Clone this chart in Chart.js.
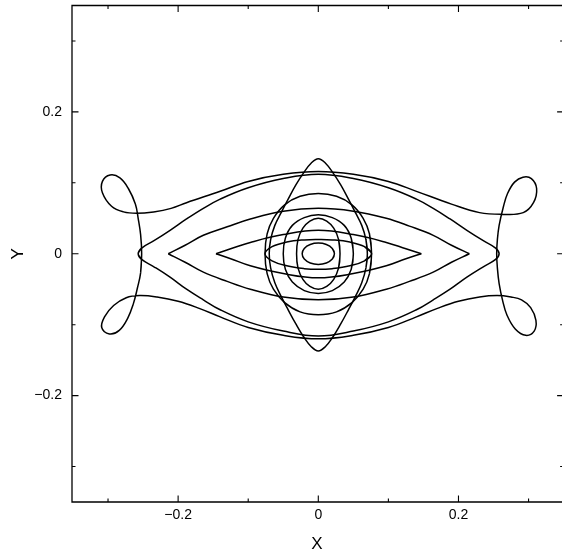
<!DOCTYPE html>
<html>
<head>
<meta charset="utf-8">
<script src="https://cdn.jsdelivr.net/npm/chart.js@4/dist/chart.umd.min.js"></script>
<style>
  html, body { margin: 0; padding: 0; background: #fff; }
  canvas { display: block; }
</style>
</head>
<body>
<canvas id="c" width="562" height="553"></canvas>
<script>
// Axis ticks
const xTickValues = [-0.2, 0, 0.2];
const xTickLabels = ['\u22120.2', '0', '0.2'];
const xMinorTicks = [-0.3, -0.1, 0.1, 0.3];
const yTickValues = [-0.2, 0, 0.2];
const yTickLabels = ['\u22120.2', '0', '0.2'];
const yMinorTicks = [-0.3, -0.1, 0.1, 0.3];

// Orbits in the (X, Y) plane, as [x, y] samples along each trajectory
const smallEllipse = [[0.020,-0.0075],[0.023,0],[0.020,0.0075],[0.0115,0.013],[0,0.015],[-0.0115,0.013],[-0.020,0.0075],[-0.023,0],[-0.020,-0.0075],[-0.0115,-0.013],[0,-0.015],[0.0115,-0.013],[0.020,-0.0075],[0.023,0],[0.020,0.0075]];

const innerOval = [[0.029,-0.02],[0.031,0],[0.029,0.02],[0.022,0.036],[0.012,0.046],[0,0.05],[-0.012,0.046],[-0.022,0.036],[-0.029,0.02],[-0.031,0],[-0.029,-0.02],[-0.022,-0.036],[-0.012,-0.046],[0,-0.05],[0.012,-0.046],[0.022,-0.036],[0.029,-0.02],[0.031,0],[0.029,0.02]];

const midOval = [[0.047,-0.022],[0.05,0],[0.047,0.022],[0.037,0.04],[0.02,0.051],[0,0.055],[-0.02,0.051],[-0.037,0.04],[-0.047,0.022],[-0.05,0],[-0.047,-0.022],[-0.037,-0.04],[-0.02,-0.052],[0,-0.056],[0.02,-0.052],[0.037,-0.04],[0.047,-0.022],[0.05,0],[0.047,0.022]];

const roundOrbit = [[0.073,-0.028],[0.076,0],[0.073,0.028],[0.064,0.05],[0.048,0.069],[0.026,0.081],[0,0.085],[-0.026,0.081],[-0.048,0.069],[-0.064,0.05],[-0.073,0.028],[-0.076,0],[-0.073,-0.028],[-0.064,-0.05],[-0.048,-0.069],[-0.026,-0.082],[0,-0.086],[0.026,-0.082],[0.048,-0.069],[0.064,-0.05],[0.073,-0.028],[0.076,0],[0.073,0.028]];

const flatOrbit = [[0.066,-0.01],[0.076,0],[0.066,0.01],[0.045,0.0165],[0.02,0.0195],[0,0.020],[-0.02,0.0195],[-0.045,0.0165],[-0.066,0.01],[-0.076,0],[-0.066,-0.01],[-0.045,-0.017],[-0.02,-0.021],[0,-0.022],[0.02,-0.021],[0.045,-0.017],[0.066,-0.01],[0.076,0],[0.066,0.01]];

const tallLens = [[0.068,-0.02],[0.070,0],[0.068,0.02],[0.062,0.04],[0.053,0.058],[0.043,0.077],[0.032,0.097],[0.021,0.114],[0.010,0.128],[0,0.134],[-0.010,0.128],[-0.021,0.114],[-0.032,0.097],[-0.043,0.077],[-0.053,0.058],[-0.062,0.04],[-0.068,0.02],[-0.070,0],[-0.068,-0.02],[-0.062,-0.041],[-0.053,-0.060],[-0.043,-0.079],[-0.032,-0.099],[-0.021,-0.117],[-0.010,-0.131],[0,-0.137],[0.010,-0.131],[0.021,-0.117],[0.032,-0.099],[0.043,-0.079],[0.053,-0.060],[0.062,-0.041],[0.068,-0.02],[0.070,0],[0.068,0.02]];

const innerLensUpper = [[-0.146,0],[-0.125,0.007],[-0.097,0.016],[-0.05,0.027],[0,0.033],[0.05,0.027],[0.097,0.016],[0.125,0.007],[0.147,0]];
const innerLensLower = [[-0.146,0],[-0.125,-0.007],[-0.097,-0.017],[-0.05,-0.028],[0,-0.034],[0.05,-0.028],[0.097,-0.017],[0.125,-0.007],[0.147,0]];

const middleLensUpper = [[-0.214,0],[-0.19,0.012],[-0.164,0.026],[-0.13,0.038],[-0.097,0.049],[-0.05,0.06],[0,0.064],[0.05,0.06],[0.097,0.05],[0.13,0.039],[0.164,0.026],[0.19,0.012],[0.2155,0]];
const middleLensLower = [[-0.214,0],[-0.19,-0.012],[-0.164,-0.026],[-0.13,-0.039],[-0.097,-0.05],[-0.05,-0.061],[0,-0.065],[0.05,-0.061],[0.097,-0.05],[0.13,-0.039],[0.164,-0.026],[0.19,-0.012],[0.2155,0]];

const outerLens = [[-0.252,-0.008],[-0.257,0],[-0.252,0.008],[-0.235,0.018],[-0.2115,0.033],[-0.188,0.049],[-0.164,0.064],[-0.14,0.077],[-0.1,0.093],[-0.05,0.106],[0,0.112],[0.05,0.106],[0.1,0.093],[0.14,0.077],[0.164,0.064],[0.188,0.049],[0.212,0.033],[0.236,0.018],[0.253,0.008],[0.258,0],[0.253,-0.008],[0.236,-0.018],[0.212,-0.033],[0.188,-0.05],[0.164,-0.065],[0.14,-0.079],[0.1,-0.096],[0.05,-0.109],[0,-0.116],[-0.05,-0.109],[-0.1,-0.096],[-0.14,-0.079],[-0.164,-0.065],[-0.188,-0.05],[-0.2115,-0.033],[-0.235,-0.018],[-0.252,-0.008],[-0.257,0],[-0.252,0.008]];

const loopOrbit = [[-0.2535,-0.027],[-0.252,0],[-0.2535,0.027],[-0.257,0.050],[-0.261,0.070],[-0.271,0.092],[-0.283,0.107],[-0.297,0.111],[-0.308,0.102],[-0.308,0.086],[-0.295,0.067],[-0.278,0.059],[-0.259,0.057],[-0.235,0.059],[-0.21,0.064],[-0.188,0.072],[-0.14,0.088],[-0.1,0.102],[-0.05,0.112],[0,0.116],[0.05,0.112],[0.1,0.102],[0.14,0.088],[0.19,0.07],[0.23,0.058],[0.262,0.0556],[0.2924,0.058],[0.307,0.072],[0.3115,0.092],[0.304,0.106],[0.292,0.108],[0.28,0.101],[0.27,0.085],[0.264,0.066],[0.258,0.040],[0.2555,0.02],[0.2545,0],[0.2555,-0.02],[0.258,-0.042],[0.263,-0.066],[0.269,-0.086],[0.281,-0.106],[0.296,-0.115],[0.308,-0.109],[0.3105,-0.094],[0.303,-0.076],[0.29,-0.065],[0.275,-0.061],[0.255,-0.059],[0.23,-0.061],[0.2,-0.067],[0.17,-0.077],[0.14,-0.089],[0.1,-0.104],[0.05,-0.115],[0,-0.120],[-0.05,-0.115],[-0.1,-0.104],[-0.14,-0.089],[-0.17,-0.077],[-0.2,-0.067],[-0.23,-0.061],[-0.255,-0.059],[-0.274,-0.062],[-0.292,-0.073],[-0.305,-0.089],[-0.309,-0.104],[-0.298,-0.113],[-0.284,-0.108],[-0.272,-0.091],[-0.264,-0.071],[-0.258,-0.048],[-0.2535,-0.027],[-0.252,0]];

const orbits = [smallEllipse, innerOval, midOval, roundOrbit, flatOrbit, tallLens,
  innerLensUpper, innerLensLower, middleLensUpper, middleLensLower, outerLens, loopOrbit];

const FONT = "'Liberation Sans', Arial, Helvetica, sans-serif";

// Frame (right edge falls just past the canvas) and inward tick marks on all four sides
const framePlugin = {
  id: 'frame',
  afterDatasetsDraw(chart) {
    const {ctx, chartArea: a, scales: {x, y}} = chart;
    const right = x.getPixelForValue(0.35);
    ctx.save();
    ctx.strokeStyle = '#000';
    ctx.lineWidth = 1.3;
    ctx.beginPath();
    ctx.moveTo(right, a.top); ctx.lineTo(a.left, a.top);
    ctx.lineTo(a.left, a.bottom); ctx.lineTo(right, a.bottom);
    ctx.lineTo(right, a.top);
    ctx.stroke();
    ctx.lineWidth = 1.1;
    const tick = (vals, len) => {
      vals.forEach(v => {
        const px = x.getPixelForValue(v);
        ctx.beginPath();
        ctx.moveTo(px, a.bottom); ctx.lineTo(px, a.bottom - len);
        ctx.moveTo(px, a.top); ctx.lineTo(px, a.top + len);
        ctx.stroke();
      });
    };
    const ytick = (vals, len) => {
      vals.forEach(v => {
        const py = y.getPixelForValue(v);
        ctx.beginPath();
        ctx.moveTo(a.left, py); ctx.lineTo(a.left + len, py);
        ctx.moveTo(right, py); ctx.lineTo(right - len, py);
        ctx.stroke();
      });
    };
    tick(xTickValues, 6.5); tick(xMinorTicks, 3.5);
    ytick(yTickValues, 6.5); ytick(yMinorTicks, 3.5);
    ctx.restore();
  }
};

const labelFor = (vals, labels) => (v) => {
  const i = vals.findIndex(t => Math.abs(t - v) < 1e-9);
  return i >= 0 ? labels[i] : '';
};

new Chart(document.getElementById('c'), {
  type: 'scatter',
  data: {
    datasets: orbits.map(pts => ({
      data: pts.map(([x, y]) => ({x, y})),
      showLine: true,
      borderColor: '#000',
      borderWidth: 1.5,
      pointRadius: 0,
      tension: 0.4,
      fill: false
    }))
  },
  options: {
    responsive: false,
    animation: false,
    events: [],
    layout: { padding: { top: 5.5, right: 0, left: 0, bottom: 0 } },
    plugins: { legend: { display: false }, tooltip: { enabled: false } },
    scales: {
      x: {
        type: 'linear', min: -0.3514, max: 0.3477,
        afterBuildTicks: s => { s.ticks = xTickValues.map(v => ({value: v})); },
        afterFit: s => { s.height = 51; s.paddingLeft = 0; s.paddingRight = 0; },
        grid: { display: false, drawTicks: false },
        border: { display: false },
        ticks: { callback: labelFor(xTickValues, xTickLabels), padding: 5, color: '#000',
                 font: { family: FONT, size: 14 }, maxRotation: 0, autoSkip: false },
        title: { display: true, text: 'X', color: '#000', font: { family: FONT, size: 17 },
                 padding: { top: 0, bottom: -2 } }
      },
      y: {
        type: 'linear', min: -0.35, max: 0.35,
        afterBuildTicks: s => { s.ticks = yTickValues.map(v => ({value: v})); },
        afterFit: s => { s.width = 72; s.paddingTop = 0; s.paddingBottom = 0; },
        grid: { display: false, drawTicks: false },
        border: { display: false },
        ticks: { callback: labelFor(yTickValues, yTickLabels), padding: 10, color: '#000',
                 font: { family: FONT, size: 14 }, autoSkip: false },
        title: { display: true, text: 'Y', color: '#000', font: { family: FONT, size: 17 },
                 padding: { top: 8, bottom: 0 } }
      }
    }
  },
  plugins: [framePlugin]
});
</script>
</body>
</html>
